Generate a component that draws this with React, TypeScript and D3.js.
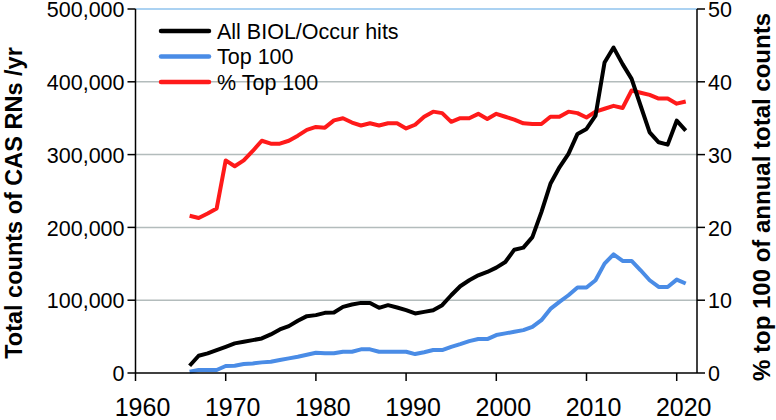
import React from "react";
import * as d3 from "d3";

const years: number[] = [
  1966, 1967, 1968, 1969, 1970, 1971, 1972, 1973, 1974, 1975, 1976, 1977, 1978, 1979,
  1980, 1981, 1982, 1983, 1984, 1985, 1986, 1987, 1988, 1989, 1990, 1991, 1992, 1993,
  1994, 1995, 1996, 1997, 1998, 1999, 2000, 2001, 2002, 2003, 2004, 2005, 2006, 2007,
  2008, 2009, 2010, 2011, 2012, 2013, 2014, 2015, 2016, 2017, 2018, 2019, 2020, 2021,
];

const allHits: number[] = [
  10000, 23700, 27000, 31500, 36000, 40700, 42900, 45200, 47500, 53000, 59800, 64400, 71700, 78100,
  79500, 82600, 83100, 90800, 94100, 96300, 96300, 89500, 93200, 90000, 86300, 81800, 84000, 86300,
  93200, 106800, 119200, 127400, 134200, 138800, 144800, 152500, 169400, 172200, 186700, 221000, 259900, 282600,
  301000, 328400, 335200, 353400, 426500, 447000, 424300, 404000, 367100, 330600, 316900, 313700, 346600, 332900,
];

const top100: number[] = [
  1800, 4100, 4100, 4100, 9600, 10000, 12300, 13200, 14600, 15500, 17800, 20100, 22400, 25100,
  27800, 27000, 27000, 29200, 29200, 32500, 32500, 29200, 29200, 29200, 29200, 26000, 28500, 31500,
  31500, 36000, 39700, 43800, 46600, 46600, 52100, 54400, 56600, 58900, 63400, 72600, 88000, 97700,
  106800, 117400, 117400, 127400, 150300, 163000, 153900, 153900, 141100, 127400, 118200, 118200, 128300, 122900,
];

const pctTop100: number[] = [
  21.6, 21.3, 21.9, 22.6, 29.2, 28.4, 29.2, 30.5, 31.9, 31.5, 31.5, 31.9, 32.6, 33.4,
  33.8, 33.7, 34.7, 35.0, 34.4, 34.0, 34.3, 34.0, 34.3, 34.3, 33.6, 34.1, 35.2, 35.9,
  35.7, 34.5, 35.0, 35.0, 35.6, 34.9, 35.6, 35.2, 34.8, 34.3, 34.2, 34.2, 35.2, 35.2,
  35.9, 35.7, 35.1, 35.9, 36.3, 36.7, 36.4, 38.8, 38.5, 38.2, 37.7, 37.7, 37.0, 37.3,
];

const xTicks: number[] = [1960, 1970, 1980, 1990, 2000, 2010, 2020];
const leftTicks: number[] = [0, 100000, 200000, 300000, 400000, 500000];
const rightTicks: number[] = [0, 10, 20, 30, 40, 50];

const seriesNames: string[] = ["All BIOL/Occur hits", "Top 100", "% Top 100"];
const seriesColors: string[] = ["#000000", "#4a8ce6", "#ff1a1a"];

const leftTitle = "Total counts of CAS RNs /yr";
const rightTitle = "% top 100 of annual total counts";

export default function App() {
  const W = 776;
  const H = 420;
  const x0 = 135.5;
  const x1 = 697;
  const yTop = 9;
  const yBot = 373;
  const font = "'Liberation Sans', Arial, sans-serif";
  const fs = 21.5;

  const x = d3.scaleLinear().domain([1960, 2022.25]).range([x0, x1]);
  const yL = d3.scaleLinear().domain([0, 500000]).range([yBot, yTop]);
  const yR = d3.scaleLinear().domain([0, 50]).range([yBot, yTop]);

  const lineL = d3
    .line<[number, number]>()
    .x((d) => x(d[0]))
    .y((d) => yL(d[1]));
  const lineR = d3
    .line<[number, number]>()
    .x((d) => x(d[0]))
    .y((d) => yR(d[1]));

  const allPath = lineL(years.map((yr, i) => [yr, allHits[i]] as [number, number])) || "";
  const topPath = lineL(years.map((yr, i) => [yr, top100[i]] as [number, number])) || "";
  const pctPath = lineR(years.map((yr, i) => [yr, pctTop100[i]] as [number, number])) || "";

  const fmt = d3.format(",");
  const legendY = [31, 56.5, 82];

  return (
    <svg
      width={W}
      height={H}
      style={{ position: "absolute", left: 0, top: 0, background: "#fff" }}
      fontFamily={font}
    >
      {/* gridlines */}
      {leftTicks.map((t) =>
        t === 0 ? null : (
          <line
            key={"g" + t}
            x1={x0}
            x2={x1}
            y1={yL(t)}
            y2={yL(t)}
            stroke={t === 500000 ? "#8fc3ee" : "#b3bcbc"}
            strokeWidth={1.5}
          />
        )
      )}

      {/* series */}
      <path d={pctPath} fill="none" stroke={seriesColors[2]} strokeWidth={4} strokeLinejoin="round" />
      <path d={allPath} fill="none" stroke={seriesColors[0]} strokeWidth={4} strokeLinejoin="round" />
      <path d={topPath} fill="none" stroke={seriesColors[1]} strokeWidth={4} strokeLinejoin="round" />

      {/* axes */}
      <line x1={x0} x2={x0} y1={yTop} y2={yBot} stroke="#000" strokeWidth={1.5} />
      <line x1={x1} x2={x1} y1={yTop} y2={yBot} stroke="#000" strokeWidth={1.5} />
      <line x1={x0} x2={x1} y1={yBot} y2={yBot} stroke="#000" strokeWidth={1.5} />

      {leftTicks.map((t) => (
        <g key={"l" + t}>
          <line x1={x0 - 8} x2={x0} y1={yL(t)} y2={yL(t)} stroke="#000" strokeWidth={1.5} />
          <text x={x0 - 11} y={yL(t)} dy="0.38em" textAnchor="end" fontSize={fs} fill="#000">
            {fmt(t)}
          </text>
        </g>
      ))}

      {rightTicks.map((t) => (
        <g key={"r" + t}>
          <line x1={x1} x2={x1 + 8} y1={yR(t)} y2={yR(t)} stroke="#000" strokeWidth={1.5} />
          <text x={x1 + 11} y={yR(t)} dy="0.38em" textAnchor="start" fontSize={fs} fill="#000">
            {t}
          </text>
        </g>
      ))}

      {xTicks.map((t) => (
        <g key={"x" + t}>
          <line x1={x(t)} x2={x(t)} y1={yBot} y2={yBot + 8} stroke="#000" strokeWidth={1.5} />
          <text x={x(t) + 7} y={416} textAnchor="middle" fontSize={25} fill="#000">
            {t}
          </text>
        </g>
      ))}

      {/* axis titles */}
      <text
        transform={`translate(22, 203) rotate(-90)`}
        textAnchor="middle"
        fontSize={23.5}
        fontWeight="bold"
        fill="#000"
      >
        {leftTitle}
      </text>
      <text
        transform={`translate(770, 197) rotate(-90)`}
        textAnchor="middle"
        fontSize={24}
        fontWeight="bold"
        fill="#000"
      >
        {rightTitle}
      </text>

      {/* legend */}
      {seriesNames.map((name, i) => (
        <g key={"lg" + i}>
          <line
            x1={161}
            x2={209}
            y1={legendY[i]}
            y2={legendY[i]}
            stroke={seriesColors[i]}
            strokeWidth={4.5}
            strokeLinecap="round"
          />
          <text x={217} y={legendY[i]} dy="0.36em" fontSize={fs} fill="#000">
            {name}
          </text>
        </g>
      ))}
    </svg>
  );
}
